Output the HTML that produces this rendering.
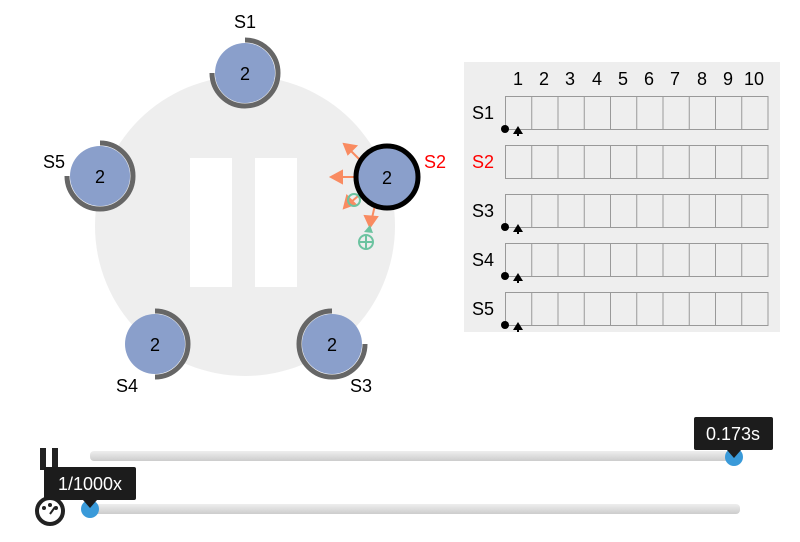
<!DOCTYPE html>
<html><head><style>
body{margin:0;width:800px;height:537px;background:#fff;overflow:hidden;font-family:"Liberation Sans",sans-serif}
</style></head><body>
<svg width="800" height="537" xmlns="http://www.w3.org/2000/svg" font-family="Liberation Sans, sans-serif">
<defs>
<linearGradient id="tr" x1="0" y1="0" x2="0" y2="1"><stop offset="0" stop-color="#eee"/><stop offset="1" stop-color="#ccc"/></linearGradient>
</defs>
<circle cx="245" cy="226" r="150" fill="#eeeeee"/>
<rect x="190" y="158" width="42" height="129" fill="#fff"/>
<rect x="255" y="158" width="42" height="129" fill="#fff"/>
<g font-size="18" text-anchor="middle">
<path d="M245 40 A33 33 0 1 1 212 73" fill="none" stroke="#666" stroke-width="5"/>
<circle cx="245" cy="73" r="30" fill="#8a9fcb"/><text x="245" y="80">2</text>
<text x="245" y="28">S1</text>
<path d="M100 143 A33 33 0 1 1 67 176" fill="none" stroke="#666" stroke-width="5"/>
<circle cx="100" cy="176" r="30" fill="#8a9fcb"/><text x="100" y="183">2</text>
<text x="54" y="168">S5</text>
<path d="M155 311 A33 33 0 0 1 155 377" fill="none" stroke="#666" stroke-width="5"/>
<circle cx="155" cy="344" r="30" fill="#8a9fcb"/><text x="155" y="351">2</text>
<text x="127" y="392">S4</text>
<path d="M332 311 A33 33 0 1 1 299 344" fill="none" stroke="#666" stroke-width="5" transform="rotate(90 332 344)"/>
<circle cx="332" cy="344" r="30" fill="#8a9fcb"/><text x="332" y="351">2</text>
<text x="361" y="392">S3</text>
<g fill="#f98b61" stroke="#f98b61" stroke-width="2">
<line x1="365" y1="165" x2="350" y2="150"/><polygon points="344,144 356,146 348,154"/>
<line x1="360" y1="177" x2="340" y2="177"/><polygon points="331,177 342,171 342,183"/>
<line x1="365" y1="190" x2="350" y2="203"/><polygon points="344,208 347,196 355,204"/>
<line x1="375" y1="205" x2="372" y2="218"/><polygon points="370,227 365,216 377,217"/>
</g>
<circle cx="354" cy="200" r="6" fill="none" stroke="#6cc3a0" stroke-width="2"/>
<polygon points="370,225 364,232 373,233" fill="#6cc3a0"/>
<circle cx="366" cy="242" r="7" fill="none" stroke="#6cc3a0" stroke-width="2"/>
<line x1="359" y1="242" x2="373" y2="242" stroke="#6cc3a0" stroke-width="2"/>
<line x1="366" y1="235" x2="366" y2="249" stroke="#6cc3a0" stroke-width="2"/>
<circle cx="387" cy="177" r="31" fill="#8a9fcb" stroke="#000" stroke-width="5"/><text x="387" y="184">2</text>
<text x="435" y="168" fill="#f00">S2</text>
</g>
<rect x="464" y="62" width="316" height="270" fill="#eeeeee"/>
<g font-size="18" text-anchor="middle">
<text x="518" y="85">1</text><text x="544" y="85">2</text><text x="570" y="85">3</text><text x="597" y="85">4</text><text x="623" y="85">5</text><text x="649" y="85">6</text><text x="675" y="85">7</text><text x="702" y="85">8</text><text x="728" y="85">9</text><text x="754" y="85">10</text>
</g>
<g font-size="18">
<text x="472" y="119">S1</text><text x="472" y="168" fill="#f00">S2</text><text x="472" y="217">S3</text><text x="472" y="266">S4</text><text x="472" y="315">S5</text>
</g>
<g fill="none" stroke="#999" stroke-width="1">
<g id="row"><rect x="505.5" y="96.5" width="262.5" height="33"/>
<path d="M531.75 96.5v33M558 96.5v33M584.25 96.5v33M610.5 96.5v33M636.75 96.5v33M663 96.5v33M689.25 96.5v33M715.5 96.5v33M741.75 96.5v33"/></g>
<use href="#row" y="49"/><use href="#row" y="98"/><use href="#row" y="147"/><use href="#row" y="196"/>
</g>
<g fill="#000">
<circle cx="505" cy="129" r="4"/><polygon points="518,126 513,134 523,134"/><rect x="517" y="133" width="2" height="3"/>
<circle cx="505" cy="227" r="4"/><polygon points="518,224 513,232 523,232"/><rect x="517" y="231" width="2" height="3"/>
<circle cx="505" cy="276" r="4"/><polygon points="518,273 513,281 523,281"/><rect x="517" y="280" width="2" height="3"/>
<circle cx="505" cy="325" r="4"/><polygon points="518,322 513,330 523,330"/><rect x="517" y="329" width="2" height="3"/>
</g>
<rect x="90" y="451" width="648" height="10" rx="4" fill="url(#tr)"/>
<rect x="40" y="448" width="6" height="22" fill="#222"/><rect x="52" y="448" width="6" height="22" fill="#222"/>
<circle cx="734" cy="457" r="9" fill="#3a9ad9"/>
<rect x="694" y="417" width="79" height="33" rx="2" fill="#1c1c1c"/>
<polygon points="727,450 741,450 734,458" fill="#1c1c1c"/>
<text x="733" y="440" fill="#fff" font-size="18" text-anchor="middle">0.173s</text>
<rect x="90" y="504" width="650" height="10" rx="4" fill="url(#tr)"/>
<circle cx="50" cy="511" r="13" fill="#fff" stroke="#222" stroke-width="4"/>
<circle cx="44" cy="508" r="2" fill="#222"/><circle cx="50" cy="505" r="2" fill="#222"/><circle cx="56" cy="508" r="2" fill="#222"/>
<line x1="50" y1="514" x2="55" y2="507" stroke="#222" stroke-width="2"/>
<circle cx="90" cy="509" r="9" fill="#3a9ad9"/>
<rect x="44" y="467" width="92" height="33" rx="2" fill="#1c1c1c"/>
<polygon points="83,500 97,500 90,508" fill="#1c1c1c"/>
<text x="90" y="490" fill="#fff" font-size="18" text-anchor="middle">1/1000x</text>
</svg>
</body></html>
